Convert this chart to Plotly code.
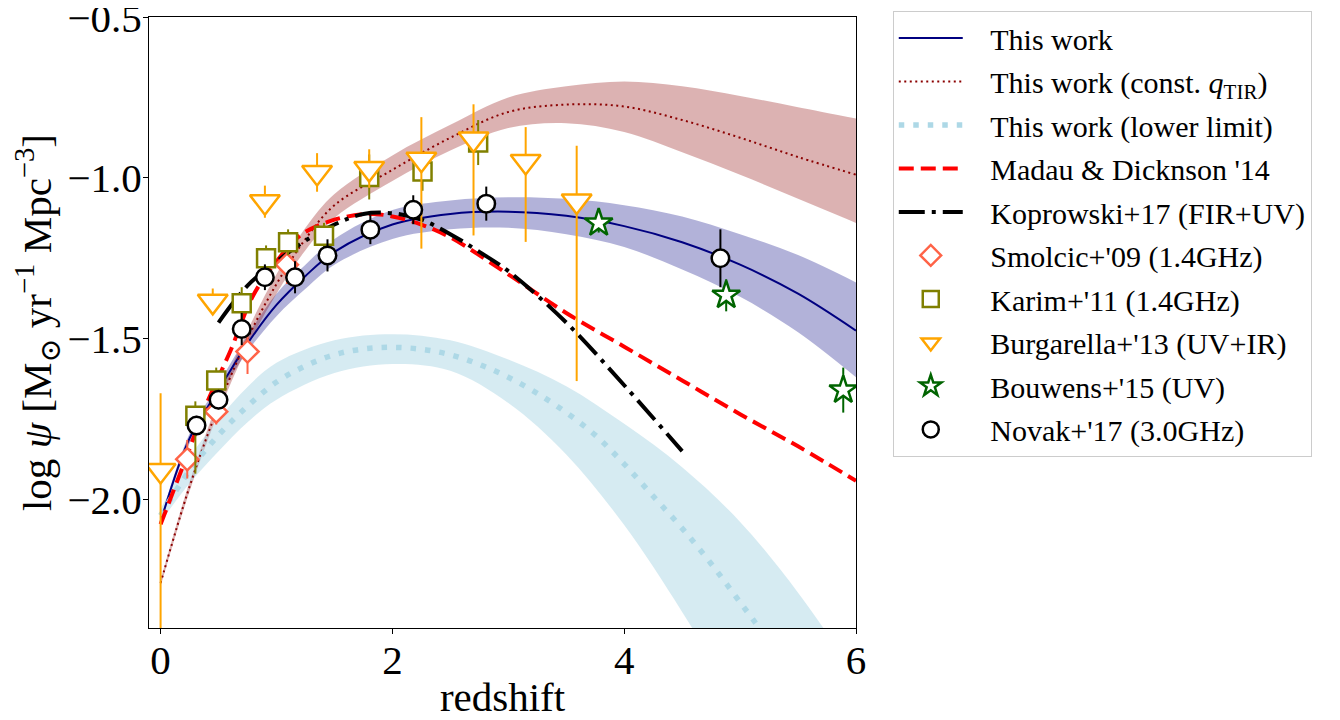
import plotly.graph_objects as go

# ---------------- data ----------------
# This work (navy solid) + band
z_tw = [0, 0.25, 0.5, 0.75, 1.0, 1.25, 1.5, 2.0, 2.5, 3.0, 3.5, 4.0, 4.5, 5.0, 5.5, 6.0]
tw_mid = [-2.07, -1.81, -1.66, -1.515, -1.395, -1.305, -1.23, -1.145, -1.112, -1.105, -1.118, -1.15, -1.20, -1.27, -1.36, -1.475]
tw_hi = [-2.06, -1.795, -1.64, -1.49, -1.36, -1.27, -1.19, -1.10, -1.07, -1.06, -1.065, -1.085, -1.12, -1.175, -1.24, -1.325]
tw_lo = [-2.08, -1.825, -1.68, -1.54, -1.43, -1.345, -1.27, -1.19, -1.16, -1.155, -1.175, -1.215, -1.285, -1.37, -1.48, -1.62]

# This work (const. qTIR) (dark red dotted) + band
cq_mid = [-2.26, -1.96, -1.71, -1.50, -1.33, -1.19, -1.085, -0.975, -0.875, -0.795, -0.772, -0.778, -0.82, -0.875, -0.935, -0.99]
cq_hi = [-2.25, -1.945, -1.69, -1.475, -1.30, -1.155, -1.05, -0.93, -0.835, -0.75, -0.715, -0.70, -0.715, -0.745, -0.78, -0.815]
cq_lo = [-2.27, -1.975, -1.73, -1.525, -1.36, -1.225, -1.125, -1.01, -0.915, -0.845, -0.83, -0.857, -0.92, -0.99, -1.065, -1.14]

# This work (lower limit) (light blue dotted) + band
z_ll = [0, 0.25, 0.5, 0.75, 1.0, 1.25, 1.5, 1.75, 2.0, 2.25, 2.5, 2.75, 3.0, 3.25, 3.5, 3.75, 4.0, 4.25, 4.5, 4.75, 5.0, 5.25]
ll_mid = [-2.05, -1.91, -1.80, -1.71, -1.635, -1.585, -1.55, -1.532, -1.527, -1.533, -1.55, -1.58, -1.62, -1.67, -1.73, -1.80, -1.89, -1.99, -2.09, -2.20, -2.32, -2.44]
z_llb = [0, 0.25, 0.5, 0.75, 1.0, 1.5, 2.0, 2.5, 3.0, 3.5, 4.0, 4.5, 5.0, 5.5, 6.0]
ll_hi = [-2.03, -1.87, -1.75, -1.65, -1.575, -1.505, -1.486, -1.505, -1.565, -1.648, -1.765, -1.90, -2.07, -2.29, -2.55]
ll_lo = [-2.07, -1.95, -1.85, -1.76, -1.69, -1.607, -1.579, -1.60, -1.70, -1.86, -2.08, -2.35, -2.65, -2.97, -3.3]

# Madau & Dickinson '14 (red dashed)
z_md = [0, 0.2, 0.4, 0.6, 0.8, 1.0, 1.2, 1.5, 1.8, 2.0, 2.25, 2.5, 3.0, 3.5, 4.0, 4.5, 5.0, 5.5, 6.0]
md = [-2.077, -1.89, -1.70, -1.54, -1.365, -1.26, -1.18, -1.13, -1.112, -1.12, -1.145, -1.185, -1.30, -1.42, -1.525, -1.63, -1.735, -1.835, -1.942]

# Koprowski+17 (black dash-dot)
z_kp = [0.5, 0.75, 1.0, 1.25, 1.5, 1.75, 2.0, 2.25, 2.5, 2.75, 3.0, 3.5, 4.0, 4.5]
kp = [-1.45, -1.335, -1.26, -1.195, -1.145, -1.112, -1.11, -1.13, -1.175, -1.23, -1.29, -1.45, -1.645, -1.85]

# Smolcic+'09
z_sm = [0.23, 0.48, 0.75, 1.09]
y_sm = [-1.875, -1.727, -1.54, -1.27]
e_sm = [0.06, 0.04, 0.07, 0.06]

# Karim+'11
z_ka = [0.30, 0.48, 0.70, 0.91, 1.10, 1.41, 1.80, 2.26, 2.74]
y_ka = [-1.74, -1.63, -1.39, -1.25, -1.20, -1.18, -0.997, -0.98, -0.89]
ep_ka = [0.045, 0.04, 0.05, 0.04, 0.04, 0.04, 0.07, 0.06, 0.07]
em_ka = [0.18, 0.04, 0.05, 0.04, 0.04, 0.04, 0.07, 0.06, 0.07]

# Burgarella+'13
z_bu = [0.0, 0.45, 0.90, 1.35, 1.80, 2.25, 2.70, 3.15, 3.59]
y_bu = [-1.91, -1.384, -1.074, -0.983, -0.971, -0.942, -0.879, -0.949, -1.072]
ep_bu = [0.24, 0.04, 0.05, 0.06, 0.06, 0.131, 0.108, 0.107, 0.172]
em_bu = [0.60, 0.04, 0.05, 0.06, 0.06, 0.278, 0.30, 0.25, 0.56]

# Bouwens+'15
z_bo = [3.78, 4.88, 5.89]
y_bo = [-1.14, -1.365, -1.66]
e_bo = [0.03, 0.05, 0.07]

# Novak+'17
z_no = [0.31, 0.50, 0.70, 0.90, 1.16, 1.44, 1.81, 2.18, 2.81, 4.83]
y_no = [-1.77, -1.69, -1.47, -1.309, -1.309, -1.241, -1.161, -1.099, -1.080, -1.25]
e_no = [0.03, 0.03, 0.05, 0.04, 0.05, 0.05, 0.045, 0.045, 0.053, 0.09]

x_ticks = [0, 2, 4, 6]
y_ticks = [-2.0, -1.5, -1.0, -0.5]

FONT = "Liberation Serif, Times New Roman, DejaVu Serif, serif"
PAD = "\u00a0\u00a0\u00a0"  # gap between legend symbol and text

fig = go.Figure()


def band(x, lo, hi, color):
    fig.add_trace(go.Scatter(x=x, y=lo, mode="lines", line=dict(width=0, shape="spline"),
                             showlegend=False, hoverinfo="skip"))
    fig.add_trace(go.Scatter(x=x, y=hi, mode="lines", line=dict(width=0, shape="spline"),
                             fill="tonexty", fillcolor=color, showlegend=False, hoverinfo="skip"))


band(z_tw, tw_lo, tw_hi, "rgba(0,0,128,0.3)")
band(z_tw, cq_lo, cq_hi, "rgba(139,0,0,0.3)")
band(z_llb, ll_lo, ll_hi, "rgba(173,216,230,0.5)")

# lines
fig.add_trace(go.Scatter(x=z_tw, y=tw_mid, mode="lines", name=PAD + "This work",
                         line=dict(color="navy", width=2, shape="spline"), legendgroup="a"))
fig.add_trace(go.Scatter(x=z_tw, y=cq_mid, mode="lines",
                         name=PAD + "This work (const. <i>q</i><sub>TIR</sub>)",
                         line=dict(color="darkred", width=2, dash="2px,3.5px", shape="spline"),
                         legendgroup="b"))
fig.add_trace(go.Scatter(x=z_ll, y=ll_mid, mode="lines", name=PAD + "This work (lower limit)",
                         line=dict(color="lightblue", width=5.5, dash="5.5px,9px", shape="spline"),
                         legendgroup="c"))
fig.add_trace(go.Scatter(x=z_md, y=md, mode="lines", name=PAD + "Madau &amp; Dicknson '14",
                         line=dict(color="red", width=4, dash="15px,7px", shape="spline"),
                         legendgroup="d"))
fig.add_trace(go.Scatter(x=z_kp, y=kp, mode="lines", name=PAD + "Koprowski+17 (FIR+UV)",
                         line=dict(color="black", width=4, dash="26px,7px,4px,7px", shape="spline"),
                         legendgroup="e"))


def pts(x, y, ep, em, name, symbol, color, size, grp):
    fig.add_trace(go.Scatter(
        x=x, y=y, mode="markers", name=PAD + name, legendgroup=grp,
        marker=dict(symbol=symbol, size=size, color="white",
                    line=dict(color=color, width=2.5)),
        error_y=dict(type="data", symmetric=False, array=ep, arrayminus=em,
                     color=color, thickness=2, width=0),
    ))


pts(z_sm, y_sm, e_sm, e_sm, "Smolcic+'09 (1.4GHz)", "diamond", "tomato", 17, "f")
pts(z_ka, y_ka, ep_ka, em_ka, "Karim+'11 (1.4GHz)", "square", "olive", 18, "g")
pts(z_bu, y_bu, ep_bu, em_bu, "Burgarella+'13 (UV+IR)", "triangle-down", "orange", 26, "h")
pts(z_bo, y_bo, e_bo, e_bo, "Bouwens+'15 (UV)", "star", "darkgreen", 21, "i")
pts(z_no, y_no, e_no, e_no, "Novak+'17 (3.0GHz)", "circle", "black", 17.5, "j")

axis_common = dict(showgrid=False, zeroline=False, showline=True, linecolor="black",
                   linewidth=1, mirror=True, ticks="outside", ticklen=5, tickwidth=1,
                   tickcolor="black", ticklabeloverflow="allow",
                   tickfont=dict(family=FONT, size=41, color="black"))

# the page body adds an 8 px offset, so the figure is 8 px smaller and margins shifted
fig.update_layout(
    width=1332, height=712,
    margin=dict(l=141, r=484, t=9, b=92, autoexpand=False),
    paper_bgcolor="white", plot_bgcolor="white",
    font=dict(family=FONT, color="black"),
    xaxis=dict(range=[-0.1, 6], tickvals=x_ticks, ticktext=[str(v) for v in x_ticks],
               ticklabelstandoff=-9, automargin=False,
               title=dict(text="redshift", font=dict(family=FONT, size=41), standoff=11),
               **axis_common),
    yaxis=dict(range=[-2.4, -0.4995], tickvals=y_ticks, tickformat=".1f",
               ticklabelstandoff=-7, automargin=False,
               title=dict(text="log <i>ψ</i> [M<sub>⊙</sub> yr<sup>−1</sup> Mpc<sup>−3</sup>]",
                          font=dict(family=FONT, size=41), standoff=3),
               **axis_common),
    legend=dict(x=1.052, y=1.01, xanchor="left", yanchor="top",
                font=dict(family=FONT, size=30, color="black"),
                bordercolor="#cccccc", borderwidth=1, bgcolor="white",
                tracegroupgap=1.5, itemsizing="trace", itemwidth=64, maxheight=700),
    showlegend=True,
)

fig.write_html("out.html")
